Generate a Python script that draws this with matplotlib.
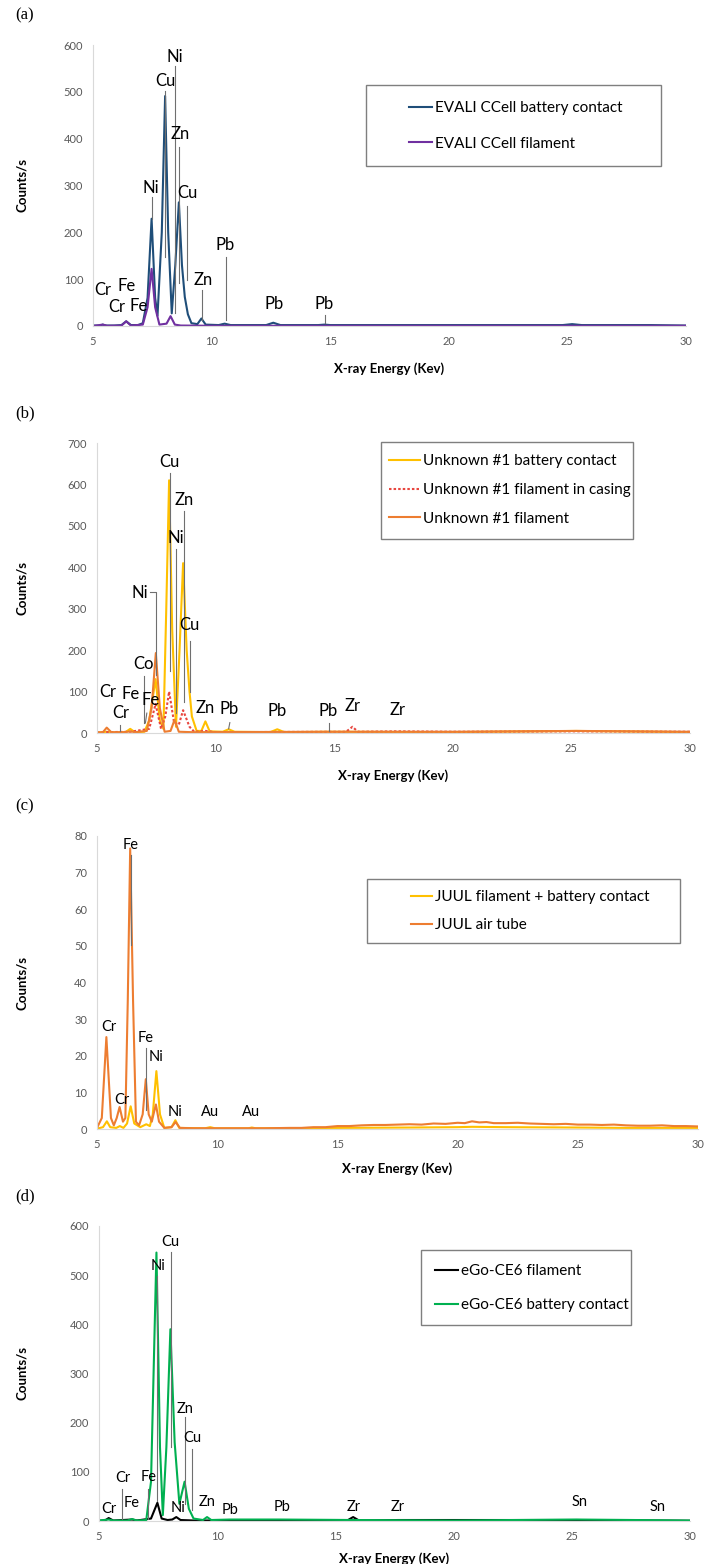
import matplotlib
matplotlib.use("Agg")
import matplotlib.pyplot as plt
from matplotlib.patches import Rectangle

plt.rcParams['font.family'] = ['Lato', 'DejaVu Sans']

W, H = 705, 1564

# ---------------- (a) EVALI CCell ----------------
a_contact_keV = [5.0, 5.3, 5.41, 5.55, 5.9, 6.2, 6.4, 6.6, 6.9, 7.1, 7.3, 7.47, 7.62, 7.72, 7.9, 8.04,
                 8.17, 8.32, 8.47, 8.62, 8.75, 8.87, 9.0, 9.15, 9.4, 9.57, 9.75, 10.3, 10.55, 10.8,
                 12.3, 12.6, 12.9, 14.5, 14.76, 15.0, 17.0, 20.0, 24.8, 25.2, 25.6, 28.5, 30.0]
a_contact_cps = [1, 1, 3, 1, 1, 2, 10, 2, 2, 6, 60, 229, 60, 22, 200, 491,
                 200, 27, 130, 264, 130, 62, 25, 6, 4, 16, 3, 2, 5, 2,
                 2, 7, 2, 2, 3, 2, 2, 2, 2, 4, 2, 2, 1]
a_fil_keV = [5.0, 5.41, 5.6, 6.2, 6.4, 6.6, 7.1, 7.3, 7.47, 7.62, 7.8, 8.1, 8.27, 8.45, 8.7, 10.0, 30.0]
a_fil_cps = [0, 3, 0.5, 1, 10, 1, 3, 40, 122, 40, 3, 5, 21, 3, 1, 0.5, 0.5]

a_peaks = [("Cr", 5.42, 76), ("Fe", 6.42, 86), ("Cr", 6.0, 40), ("Fe", 6.92, 42),
           ("Ni", 7.43, 294), ("Cu", 8.05, 523), ("Ni", 8.47, 574), ("Zn", 8.68, 411),
           ("Cu", 8.97, 285), ("Zn", 9.64, 99), ("Pb", 10.56, 172), ("Pb", 12.62, 47),
           ("Pb", 14.75, 48)]
a_leaders = [(7.47, 275, 229), (8.05, 501, 147), (8.45, 555, 27), (8.64, 383, 91),
             (8.95, 257, 98), (9.6, 76, 13), (10.6, 147, 13), (14.76, 23, 6)]

# ---------------- (b) Unknown #1 ----------------
b_contact_keV = [5.0, 5.41, 5.6, 6.2, 6.4, 6.6, 7.0, 7.2, 7.47, 7.65, 7.8, 7.92, 8.04, 8.17, 8.33,
                 8.48, 8.63, 8.78, 8.9, 9.0, 9.2, 9.4, 9.57, 9.75, 10.3, 10.55, 10.8, 12.3, 12.6,
                 12.9, 14.76, 20.0, 25.2, 30.0]
b_contact_cps = [1, 3, 1, 2, 10, 2, 3, 30, 130, 30, 10, 300, 610, 250, 15,
                 200, 410, 200, 100, 40, 5, 5, 28, 4, 3, 9, 3, 2, 9,
                 2, 3, 2, 5, 2]
b_casing_keV = [5.0, 5.41, 6.4, 7.2, 7.47, 7.7, 7.88, 8.04, 8.25, 8.45, 8.63, 8.9, 9.1, 9.57, 10.0,
                15.5, 15.77, 16.0, 17.67, 20.0, 25.2, 30.0]
b_casing_cps = [1, 2, 3, 10, 70, 10, 40, 100, 25, 20, 55, 15, 3, 5, 2,
                3, 15, 3, 4, 3, 4, 3]
b_fil_keV = [5.0, 5.25, 5.41, 5.6, 6.2, 6.4, 6.6, 7.1, 7.3, 7.48, 7.65, 7.85, 8.1, 8.27, 8.45,
             9.0, 15.0, 20.0, 25.2, 30.0]
b_fil_cps = [1, 2, 13, 2, 2, 4, 2, 5, 60, 193, 60, 3, 5, 32, 3,
             2, 3, 3, 5, 3]

b_peaks = [("Cu", 8.06, 654), ("Zn", 8.67, 563), ("Ni", 8.34, 470), ("Ni", 6.82, 338),
           ("Cu", 8.91, 260), ("Co", 6.98, 167), ("Cr", 5.46, 99), ("Fe", 6.41, 94),
           ("Fe", 7.26, 79), ("Cr", 6.0, 48), ("Zn", 9.58, 60), ("Pb", 10.57, 58),
           ("Pb", 12.6, 52), ("Pb", 14.76, 52), ("Zr", 15.77, 66), ("Zr", 17.67, 56)]
b_leaders = [(8.06, 628, 149), (8.65, 537, 76), (8.31, 443, 48), (8.91, 221, 100),
             (6.98, 137, 24), (5.97, 20, 4), (14.76, 24, 4)]

# ---------------- (c) JUUL ----------------
c_fil_keV = [5.0, 5.25, 5.41, 5.55, 5.8, 5.95, 6.1, 6.25, 6.4, 6.55, 6.8, 7.05, 7.2, 7.32, 7.47,
             7.62, 7.8, 8.1, 8.26, 8.42, 9.5, 9.71, 9.9, 11.3, 11.44, 11.6, 15.0, 18.0, 20.0,
             20.6, 22.0, 25.0, 27.0, 30.0]
c_fil_cps = [0.1, 0.5, 2.1, 0.5, 0.3, 0.8, 0.3, 1.5, 6.2, 1.5, 0.5, 1.3, 0.8, 4, 15.8,
             4, 0.3, 0.5, 2.4, 0.3, 0.2, 0.5, 0.2, 0.2, 0.4, 0.2, 0.3, 0.4, 0.5,
             0.6, 0.5, 0.4, 0.3, 0.3]
c_tube_keV = [5.0, 5.2, 5.39, 5.58, 5.7, 5.82, 5.94, 6.08, 6.18, 6.28, 6.38, 6.5, 6.62, 6.75, 6.9,
              7.03, 7.15, 7.28, 7.35, 7.45, 7.58, 7.8, 8.1, 8.27, 8.45, 9.0, 11.0, 12.0, 13.0,
              13.5, 14.0, 14.5, 15.0, 15.5, 16.0, 16.5, 17.0, 17.5, 18.0, 18.5, 19.0, 19.5, 20.0,
              20.3, 20.6, 20.9, 21.2, 21.5, 22.0, 22.5, 23.0, 23.5, 24.0, 24.5, 25.0, 25.5,
              26.0, 26.5, 27.0, 27.5, 28.0, 28.5, 29.0, 29.5, 30.0]
c_tube_cps = [0.3, 3, 25.1, 3, 1, 3, 6.0, 2, 3, 35, 76.6, 35, 2, 1, 4,
              13.6, 4, 2, 4, 6.7, 2, 0.3, 0.5, 1.9, 0.3, 0.2, 0.2, 0.2, 0.3,
              0.3, 0.5, 0.5, 0.8, 0.8, 1.0, 1.1, 1.1, 1.2, 1.3, 1.2, 1.5, 1.4, 1.7,
              1.6, 2.1, 1.8, 1.9, 1.6, 1.6, 1.7, 1.5, 1.4, 1.3, 1.4, 1.2, 1.2,
              1.1, 1.2, 1.0, 0.9, 0.9, 1.0, 0.8, 0.8, 0.7]

c_peaks = [("Fe", 6.4, 77.5), ("Cr", 5.49, 27.9), ("Fe", 7.04, 24.9), ("Ni", 7.47, 19.7),
           ("Cr", 6.05, 7.8), ("Ni", 8.26, 4.6), ("Au", 9.72, 4.6), ("Au", 11.42, 4.6)]
c_leaders = [(6.4, 74.8, 50.2), (7.04, 22.1, 5.1)]

# ---------------- (d) eGo-CE6 ----------------
d_fil_keV = [5.0, 5.25, 5.41, 5.6, 6.4, 6.6, 7.2, 7.47, 7.65, 7.9, 8.1, 8.27, 8.45, 9.0, 15.5,
             15.75, 16.0, 17.67, 25.2, 30.0]
d_fil_cps = [0.5, 1, 6, 1, 3, 1, 5, 37, 5, 2, 3, 8, 2, 1, 1,
             8, 1, 2, 2, 0.5]
d_contact_keV = [5.0, 5.41, 5.6, 6.2, 6.4, 6.6, 7.0, 7.2, 7.43, 7.58, 7.7, 7.85, 8.02, 8.2, 8.4,
                 8.62, 8.8, 9.0, 9.4, 9.57, 9.75, 10.55, 12.6, 15.77, 20.0, 25.2, 30.0]
d_contact_cps = [1, 3, 1, 1, 4, 1, 2, 80, 546, 150, 12, 150, 390, 160, 35,
                 80, 25, 5, 2, 8, 2, 3, 3, 2, 1, 3, 1]

d_peaks = [("Cu", 8.03, 568), ("Ni", 7.5, 519), ("Zn", 8.64, 228), ("Cu", 8.95, 169),
           ("Cr", 5.99, 88), ("Fe", 7.09, 90), ("Cr", 5.42, 24), ("Fe", 6.4, 37),
           ("Ni", 8.36, 26), ("Zn", 9.59, 39), ("Pb", 10.54, 22), ("Pb", 12.74, 29),
           ("Zr", 15.77, 29), ("Zr", 17.63, 28), ("Sn", 25.33, 39), ("Sn", 28.63, 29)]
d_leaders = [(8.03, 548, 151), (7.47, 498, 40), (8.64, 212, 35), (8.95, 147, 22),
             (5.97, 66, 5), (7.07, 66, 5)]


fig = plt.figure(figsize=(W / 100, H / 100), dpi=100)


def fx(x):
    return x / W


def fy(y):
    return 1 - y / H


def panel(letter, box, ymax, ystep, series, peaks, leaders, peak_fs,
          leg_box, leg_x, leg_y, leg_space, handle_len, xlab_off=36):
    l, t, r, b = box
    ax = fig.add_axes([fx(l), fy(b), (r - l) / W, (b - t) / H])
    for keV, cps, label, color, ls in series:
        ax.plot(keV, cps, color=color, lw=1.5, ls=ls, label=label, solid_joinstyle='round')
    for e, y0, y1 in leaders:
        ax.plot([e, e], [y0, y1], color='#6f6f6f', lw=0.8, zorder=5)
    for txt, e, v in peaks:
        ax.text(e, v, txt, ha='center', va='center', fontsize=peak_fs, color='black', zorder=6)
    ax.set_xlim(5, 30)
    ax.set_ylim(0, ymax)
    ax.set_xticks(range(5, 31, 5))
    ax.set_yticks(range(0, ymax + 1, ystep))
    ax.tick_params(length=0, labelsize=8, labelcolor='#595959', pad=7)
    for s in ['top', 'right']:
        ax.spines[s].set_visible(False)
    for s in ['left', 'bottom']:
        ax.spines[s].set_color('#d9d9d9')
        ax.spines[s].set_linewidth(0.8)
    ax.set_xlabel('X-ray Energy (Kev)', fontsize=9.5, fontweight='bold')
    ax.set_ylabel('Counts/s', fontsize=9.5, fontweight='bold')
    ax.xaxis.set_label_coords(0.5, -xlab_off / (b - t))
    ax.yaxis.set_label_coords((28 - l) / (r - l), 0.5)
    fig.text(fx(15), fy(t - 30), letter, fontsize=12, family='Liberation Serif',
             ha='left', va='center')
    # legend frame
    bl, bt, br, bb = leg_box
    fig.add_artist(Rectangle((fx(bl), fy(bb)), (br - bl) / W, (bb - bt) / H,
                             transform=fig.transFigure, fill=False,
                             edgecolor='#7f7f7f', lw=1.0))
    ax.legend(loc='center left', bbox_to_anchor=(fx(leg_x), fy(leg_y)),
              bbox_transform=fig.transFigure, frameon=False, fontsize=11,
              handlelength=handle_len, handletextpad=0.2, labelspacing=leg_space,
              borderpad=0, borderaxespad=0)
    return ax


panel('(a)', (93, 45, 686, 326), 600, 100,
      [(a_contact_keV, a_contact_cps, 'EVALI CCell battery contact', '#1F4E79', '-'),
       (a_fil_keV, a_fil_cps, 'EVALI CCell filament', '#7030A0', '-')],
      a_peaks, a_leaders, 12,
      (366, 85, 661, 166), 409, 126, 1.42, 1.5)

axb = panel('(b)', (97, 443, 690, 733), 700, 100,
            [(b_contact_keV, b_contact_cps, 'Unknown #1 battery contact', '#FFC000', '-'),
             (b_casing_keV, b_casing_cps, 'Unknown #1 filament in casing', '#E8463F', (0, (1.2, 1.0))),
             (b_fil_keV, b_fil_cps, 'Unknown #1 filament', '#ED7D31', '-')],
            b_peaks, b_leaders, 12,
            (381, 442, 633, 539), 389, 490, 0.96, 2.0)
axb.plot([7.22, 7.47, 7.47], [340, 340, 140], color='#6f6f6f', lw=0.8, zorder=5)
axb.plot([7.1, 7.04], [48, 24], color='#6f6f6f', lw=0.8, zorder=5)
axb.plot([10.6, 10.55], [25, 10], color='#6f6f6f', lw=0.8, zorder=5)

panel('(c)', (97, 836, 698, 1129), 80, 10,
      [(c_fil_keV, c_fil_cps, 'JUUL filament + battery contact', '#FFC000', '-'),
       (c_tube_keV, c_tube_cps, 'JUUL air tube', '#ED7D31', '-')],
      c_peaks, c_leaders, 10.5,
      (367, 879, 680, 943), 411, 911, 0.9, 1.4, 33)

panel('(d)', (99, 1226, 690, 1521), 600, 100,
      [(d_fil_keV, d_fil_cps, 'eGo-CE6 filament', '#000000', '-'),
       (d_contact_keV, d_contact_cps, 'eGo-CE6 battery contact', '#00B050', '-')],
      d_peaks, d_leaders, 10.5,
      (421, 1250, 631, 1325), 435, 1288, 1.3, 1.5, 31)

fig.savefig('out.png', dpi=100)
